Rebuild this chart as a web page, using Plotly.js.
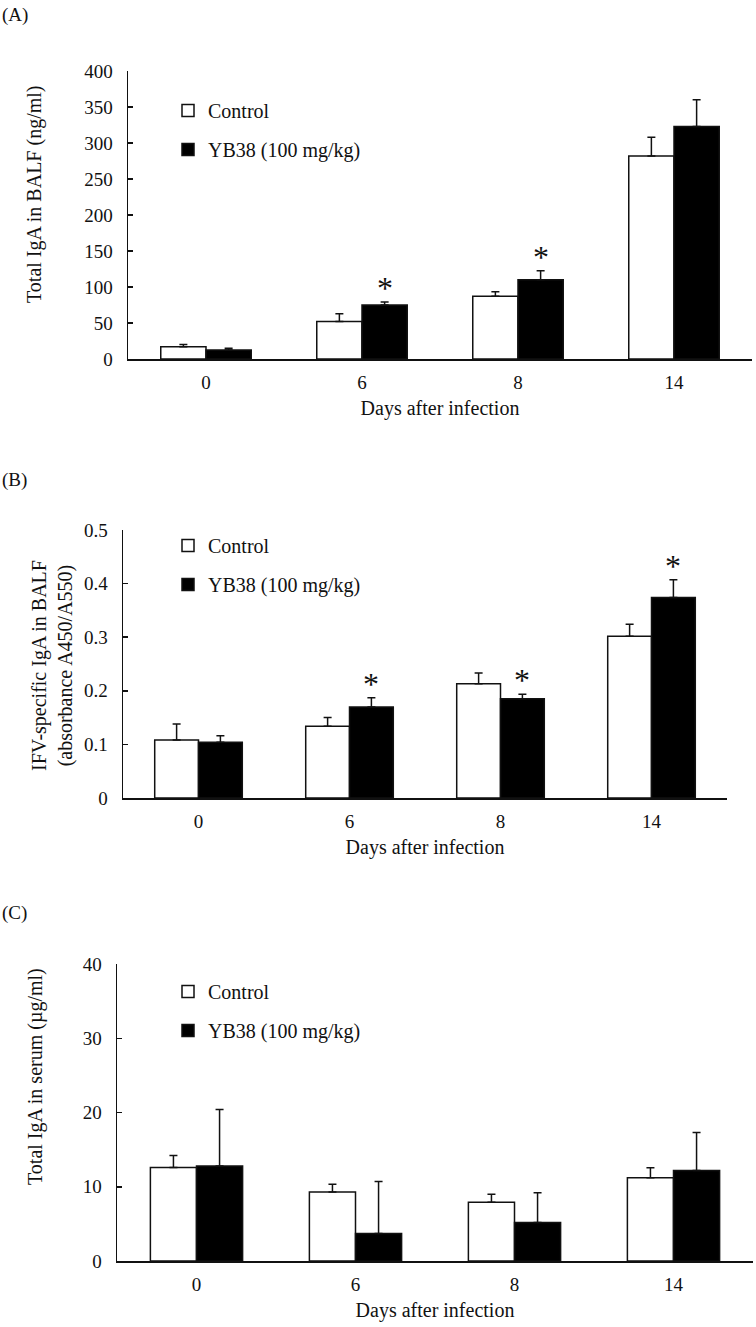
<!DOCTYPE html>
<html>
<head>
<meta charset="utf-8">
<script src="https://cdn.plot.ly/plotly-3.0.1.min.js"></script>
<style>html,body{margin:0;padding:0;background:#fff;}#chart{width:756px;height:1327px;}</style>
</head>
<body>
<div id="chart"></div>
<script>
// ---- data ----
const days = ["0", "6", "8", "14"];
const seriesNames = ["Control", "YB38 (100 mg/kg)"];

// (A) Total IgA in BALF (ng/ml)
const aControl = [17, 52, 87, 282];
const aControlErr = [3, 11, 6.5, 26];
const aYB38 = [12.5, 75, 110, 323];
const aYB38Err = [2.5, 4, 12.6, 37];
const aSig = [false, true, true, false];

// (B) IFV-specific IgA in BALF (absorbance A450/A550)
const bControl = [0.108, 0.134, 0.213, 0.302];
const bControlErr = [0.030, 0.016, 0.020, 0.022];
const bYB38 = [0.104, 0.170, 0.185, 0.374];
const bYB38Err = [0.012, 0.017, 0.0085, 0.033];
const bSig = [false, true, true, true];

// (C) Total IgA in serum (µg/ml)
const cControl = [12.6, 9.3, 7.9, 11.2];
const cControlErr = [1.6, 1.05, 1.1, 1.35];
const cYB38 = [12.8, 3.7, 5.2, 12.2];
const cYB38Err = [7.6, 7.0, 4.0, 5.1];
const cSig = [false, false, false, false];

const panelLabels = ["(A)", "(B)", "(C)"];
const yTitles = ["Total IgA in BALF (ng/ml)", "IFV-specific IgA in BALF<br>(absorbance A450/A550)", "Total IgA in serum (µg/ml)"];
const xTitle = "Days after infection";
const yRanges = [[0, 400], [0, 0.5], [0, 40]];
const yDticks = [50, 0.1, 10];

// ---- layout helpers ----
const W = 756, H = 1327;
const FONT = "Liberation Serif";
const FS = 19;
const FT = 20;
const INK = "#111";
const BARGAP = 0.42;
const px = v => v / W;
const py = v => 1 - v / H;

const panels = [
  {ctrl: aControl, ctrlErr: aControlErr, yb: aYB38, ybErr: aYB38Err, sig: aSig,
   xdom: [128, 752], ydom: [359, 71], lab: 15, ytitle: [35, 195], leg: [168, 91]},
  {ctrl: bControl, ctrlErr: bControlErr, yb: bYB38, ybErr: bYB38Err, sig: bSig,
   xdom: [123, 727], ydom: [798, 530], lab: 480, ytitle: [52, 666], leg: [168, 526]},
  {ctrl: cControl, ctrlErr: cControlErr, yb: cYB38, ybErr: cYB38Err, sig: cSig,
   xdom: [117, 753], ydom: [1261, 964], lab: 913, ytitle: [35, 1077], leg: [168, 972]}
];

const traces = [];
const layout = {
  width: W, height: H,
  margin: {l: 0, r: 0, t: 0, b: 0},
  paper_bgcolor: "#fff", plot_bgcolor: "#fff",
  font: {family: FONT, size: FS, color: INK},
  barmode: "group", bargap: BARGAP, bargroupgap: 0,
  annotations: [],
  showlegend: true
};

panels.forEach((p, i) => {
  const n = i === 0 ? "" : String(i + 1);
  const xa = "x" + n, ya = "y" + n;
  const legName = "legend" + n;
  const mk = (name, y, err, fill, grp) => ({
    type: "bar", name: name, x: days, y: y,
    xaxis: xa, yaxis: ya, legend: legName, legendgroup: grp + n,
    marker: {color: fill, line: {color: INK, width: 1.5}},
    error_y: {type: "data", array: err, arrayminus: err.map(() => 0), symmetric: false,
              color: INK, thickness: 1.5, width: 4},
    hoverinfo: "x+y"
  });
  traces.push(mk(seriesNames[0], p.ctrl, p.ctrlErr, "#ffffff", "c"));
  traces.push(mk(seriesNames[1], p.yb, p.ybErr, "#000000", "y"));

  layout["xaxis" + n] = {
    domain: [px(p.xdom[0]), px(p.xdom[1])], anchor: ya, type: "category",
    range: [-0.5, days.length - 0.5], autorange: false,
    showline: true, linecolor: INK, linewidth: 1.5, ticks: "", showgrid: false,
    zeroline: false, tickfont: {family: FONT, size: FS, color: INK},
    ticklabelstandoff: 6,
    title: {text: xTitle, font: {family: FONT, size: FT, color: INK}, standoff: 8},
    automargin: false, fixedrange: true
  };
  layout["yaxis" + n] = {
    domain: [py(p.ydom[0]), py(p.ydom[1])], anchor: xa, range: yRanges[i], autorange: false,
    dtick: yDticks[i],
    showline: true, linecolor: INK, linewidth: 1.5, ticks: "inside", ticklen: 5,
    tickwidth: 1.5, tickcolor: INK, showgrid: false, zeroline: false,
    tickfont: {family: FONT, size: FS, color: INK}, ticklabelstandoff: 10,
    automargin: false, fixedrange: true
  };
  layout[legName] = {
    x: px(p.leg[0]), y: py(p.leg[1]), xanchor: "left", yanchor: "top",
    bgcolor: "rgba(0,0,0,0)", borderwidth: 0, traceorder: "grouped", tracegroupgap: 10,
    font: {family: FONT, size: FT, color: INK}, itemclick: false, itemdoubleclick: false
  };

  // panel label
  layout.annotations.push({xref: "paper", yref: "paper", x: 0, y: py(p.lab), xanchor: "left", yanchor: "middle",
    text: panelLabels[i], showarrow: false, font: {family: FONT, size: FS, color: INK}});
  // y-axis title
  layout.annotations.push({xref: "paper", yref: "paper", x: px(p.ytitle[0]), y: py(p.ytitle[1]),
    xanchor: "center", yanchor: "middle", textangle: -90, text: yTitles[i], showarrow: false,
    font: {family: FONT, size: FT, color: INK}});

  // significance asterisks over YB38 bars (x = category index)
  const catW = (p.xdom[1] - p.xdom[0]) / days.length;
  const barW = catW * (1 - BARGAP) / 2;
  p.sig.forEach((s, k) => {
    if (!s) return;
    layout.annotations.push({xref: xa, yref: ya, x: k, y: p.yb[k] + p.ybErr[k],
      xshift: barW / 2, yshift: -6, xanchor: "center", yanchor: "bottom",
      text: "*", showarrow: false, font: {family: FONT, size: 32, color: INK}});
  });
});

Plotly.newPlot("chart", traces, layout, {displayModeBar: false, staticPlot: true});
</script>
</body>
</html>
